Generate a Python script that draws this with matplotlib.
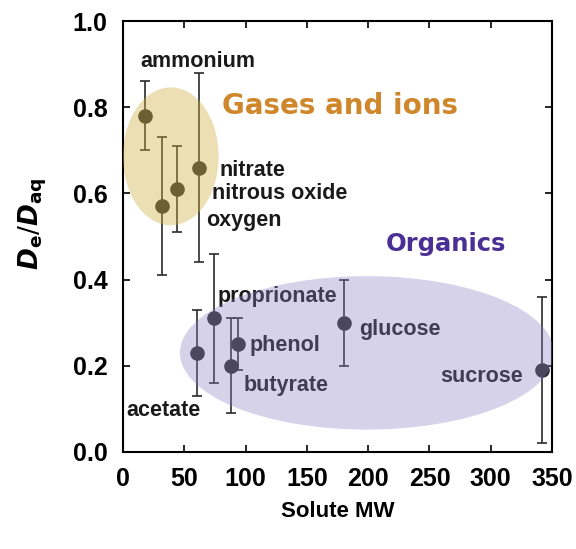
import matplotlib
matplotlib.use("Agg")
import matplotlib.pyplot as plt
from matplotlib.patches import Ellipse

# solute data: molecular weight, De/Daq, error bar bottom / top
names = ["ammonium", "oxygen", "nitrous oxide", "nitrate",
         "acetate", "proprionate", "butyrate", "phenol", "glucose", "sucrose"]
mw = [18, 32, 44, 62, 60, 74, 88, 94, 180, 342]
ratio = [0.78, 0.57, 0.61, 0.66, 0.23, 0.31, 0.20, 0.25, 0.30, 0.19]
err_lo = [0.70, 0.41, 0.51, 0.44, 0.13, 0.16, 0.09, 0.19, 0.20, 0.02]
err_hi = [0.86, 0.73, 0.71, 0.88, 0.33, 0.46, 0.31, 0.31, 0.40, 0.36]

# label anchors (data units)
label_x = [14, 67.5, 73, 79, 2.5, 77, 98, 103.5, 193, 326]
label_y = [0.905, 0.538, 0.599, 0.653, 0.097, 0.36, 0.155, 0.248, 0.285, 0.176]
label_ha = ["left"] * 9 + ["right"]

xticks = [0, 50, 100, 150, 200, 250, 300, 350]
yticks = [0.0, 0.2, 0.4, 0.6, 0.8, 1.0]

fig = plt.figure(figsize=(5.76, 5.49), dpi=100)
ax = fig.add_axes([0.2135, 0.1767, 0.745, 0.785])

lo = [r - l for r, l in zip(ratio, err_lo)]
hi = [h - r for r, h in zip(ratio, err_hi)]
ax.errorbar(mw, ratio, yerr=[lo, hi], fmt="o", color="#2b2b2b", ecolor="#2b2b2b",
            markersize=9.5, elinewidth=1.2, capsize=3.5, capthick=1.2, zorder=2)

for n, x, y, ha in zip(names, label_x, label_y, label_ha):
    ax.text(x, y, n, ha=ha, va="center", fontsize=15.5, fontweight="bold",
            family="Liberation Sans", color="#1a1a1a", zorder=2)

# translucent ellipses drawn on top, tinting what lies beneath
ax.add_patch(Ellipse((39, 0.686), 78, 0.32, facecolor=(207/255, 175/255, 67/255),
                     alpha=0.4, edgecolor="none", zorder=3))
ax.add_patch(Ellipse((199, 0.23), 305, 0.356, facecolor=(140/255, 126/255, 197/255),
                     alpha=0.35, edgecolor="none", zorder=3))

ax.text(81, 0.803, "Gases and ions", fontsize=20, fontweight="bold",
        family="DejaVu Sans", color="#d0872b", va="center", zorder=4)
ax.text(214, 0.483, "Organics", fontsize=17.5, fontweight="bold",
        family="DejaVu Sans", color="#4a2f95", va="center", zorder=4)

ax.set_xlim(0, 350)
ax.set_ylim(0, 1.0)
ax.set_xticks(xticks)
ax.set_yticks(yticks)
ax.set_xticklabels([str(t) for t in xticks])
ax.set_yticklabels(["%.1f" % t for t in yticks])
ax.tick_params(direction="in", length=5, width=1.2, top=True, right=True,
               labelsize=18, pad=11)
for lab in ax.get_xticklabels() + ax.get_yticklabels():
    lab.set_fontweight("bold")
    lab.set_family("Liberation Sans")
for s in ax.spines.values():
    s.set_linewidth(1.5)

ax.set_xlabel("Solute MW", fontsize=16, fontweight="bold", family="Liberation Sans",
              labelpad=7)
ax.set_ylabel(r"$\boldsymbol{D}_\mathbf{e}/\boldsymbol{D}_\mathbf{aq}$", fontsize=19)
ax.yaxis.set_label_coords(-0.172, 0.53)

fig.savefig("out.png", dpi=100)
